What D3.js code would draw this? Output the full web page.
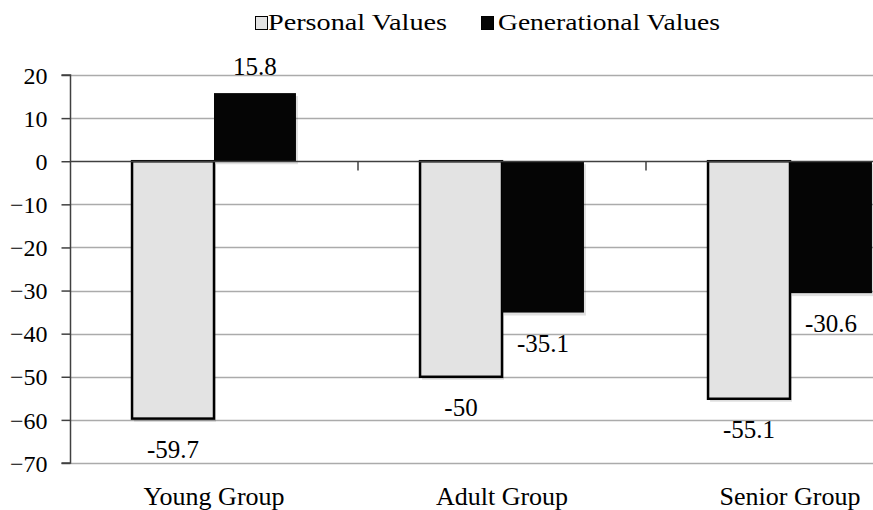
<!DOCTYPE html>
<html>
<head>
<meta charset="utf-8">
<script src="https://cdn.jsdelivr.net/npm/d3@7"></script>
<style>html,body{margin:0;background:#fff}</style>
</head>
<body>
<svg id="chart" width="873" height="510" font-family="Times New Roman"></svg>
<script>
const categories = ["Young Group", "Adult Group", "Senior Group"];
const seriesNames = ["Personal Values", "Generational Values"];
const personalValues = [-59.7, -50, -55.1];
const generationalValues = [15.8, -35.1, -30.6];
const yTicks = [20, 10, 0, -10, -20, -30, -40, -50, -60, -70];

const seriesValues = [personalValues, generationalValues];
const fills = ["#e3e3e3", "#050505"];
const FONT = "Times New Roman";

const svg = d3.select("#chart");
const W = 873, H = 510;

const y = d3.scaleLinear().domain([-70, 20]).range([463, 75]);
const x = d3.scaleBand().domain(categories).range([70, 934]).paddingInner(0).paddingOuter(0);
const xs = d3.scaleBand().domain(seriesNames).range([0, x.bandwidth()]).paddingInner(0).paddingOuter(0.757);

const left = 70.5;

// gridlines
svg.append("g").selectAll("line").data(yTicks.filter(d => d !== 0)).join("line")
  .attr("x1", left).attr("x2", W)
  .attr("y1", d => Math.round(y(d)) + 0.5).attr("y2", d => Math.round(y(d)) + 0.5)
  .attr("stroke", "#ababab").attr("stroke-width", 1.5);

// y axis
const gy = svg.append("g").attr("transform", `translate(${left},0)`)
  .call(d3.axisLeft(y).tickValues(yTicks).tickSize(9).tickPadding(14).tickFormat(d3.format("d")));
gy.attr("font-family", FONT).attr("font-size", 24);
gy.select(".domain").attr("stroke", "#404040").attr("stroke-width", 1.5).attr("d", `M-9,${y(20)}H0V${y(-70)}H-9`);
gy.selectAll(".tick line").attr("stroke", "#404040").attr("stroke-width", 1.5);
gy.selectAll(".tick text").attr("fill", "#000").attr("dy", "0.34em").attr("font-family", FONT);

// bars
const groups = svg.append("g").selectAll("g").data(categories).join("g")
  .attr("transform", c => `translate(${x(c)},0)`);

seriesNames.forEach((s, si) => {
  groups.append("rect")
    .attr("x", xs(s) + 2)
    .attr("width", xs.bandwidth())
    .attr("y", (c, ci) => y(Math.max(0, seriesValues[si][ci])) + 3)
    .attr("height", (c, ci) => Math.abs(y(seriesValues[si][ci]) - y(0)))
    .attr("fill", "#000").attr("opacity", 0.12);
  groups.append("rect")
    .attr("x", xs(s))
    .attr("width", xs.bandwidth())
    .attr("y", (c, ci) => y(Math.max(0, seriesValues[si][ci])))
    .attr("height", (c, ci) => Math.abs(y(seriesValues[si][ci]) - y(0)))
    .attr("fill", fills[si])
    .attr("stroke", si === 0 ? "#000" : "none")
    .attr("stroke-width", 2.5);
});

// zero axis line + category ticks
const zeroY = Math.round(y(0)) + 0.5;
svg.append("line").attr("x1", left).attr("x2", W).attr("y1", zeroY).attr("y2", zeroY)
  .attr("stroke", "#404040").attr("stroke-width", 1.5);
svg.append("g").selectAll("line").data(categories.slice(1)).join("line")
  .attr("x1", c => x(c)).attr("x2", c => x(c))
  .attr("y1", zeroY).attr("y2", zeroY + 9)
  .attr("stroke", "#404040").attr("stroke-width", 1.5);

// data labels
seriesNames.forEach((s, si) => {
  groups.append("text")
    .attr("x", xs(s) + xs.bandwidth() / 2)
    .attr("y", (c, ci) => {
      const v = seriesValues[si][ci];
      return v >= 0 ? y(v) - 18 : y(v) + 39;
    })
    .attr("text-anchor", "middle")
    .attr("font-family", FONT)
    .attr("font-size", 25)
    .text((c, ci) => String(seriesValues[si][ci]));
});

// category labels
svg.append("g").selectAll("text").data(categories).join("text")
  .attr("x", c => x(c) + x.bandwidth() / 2)
  .attr("y", 505)
  .attr("text-anchor", "middle")
  .attr("font-family", FONT)
  .attr("font-size", 26)
  .text(c => c);

// legend
const legendItems = [
  { name: seriesNames[0], fill: fills[0], sx: 255, tx: 268, tw: 179 },
  { name: seriesNames[1], fill: fills[1], sx: 481, tx: 498, tw: 222 }
];
const lg = svg.append("g");
legendItems.forEach(it => {
  lg.append("rect").attr("x", it.sx + 0.5).attr("y", 16.5).attr("width", 12).attr("height", 13)
    .attr("fill", it.fill).attr("stroke", "#000").attr("stroke-width", 1);
  lg.append("text").attr("x", it.tx).attr("y", 30)
    .attr("font-family", FONT).attr("font-size", 24)
    .attr("textLength", it.tw).attr("lengthAdjust", "spacingAndGlyphs").text(it.name);
});
</script>
</body>
</html>
